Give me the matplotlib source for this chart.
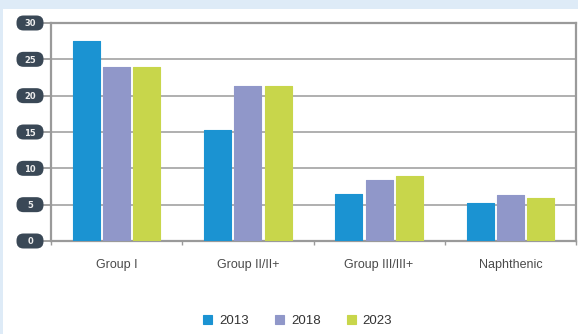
import numpy as np
import matplotlib
matplotlib.use('Agg')
import matplotlib.pyplot as plt
from matplotlib.patches import Rectangle, FancyBboxPatch

# data
categories = ['Group I', 'Group II/II+', 'Group III/III+', 'Naphthenic']
years = ['2013', '2018', '2023']
values_2013 = [27.5, 15.3, 6.5, 5.2]
values_2018 = [23.9, 21.3, 8.4, 6.3]
values_2023 = [23.9, 21.3, 8.9, 5.9]
y_ticks = [0, 5, 10, 15, 20, 25, 30]
colors = ['#1b93d2', '#9097c9', '#c8d64b']

W, H = 578, 334
fig = plt.figure(figsize=(W / 100, H / 100), dpi=100, facecolor='#deebf7')
# white panel on the light blue background
fig.patches.append(Rectangle((3 / W, 0), 1, 1 - 9 / H, transform=fig.transFigure,
                             facecolor='white', edgecolor='none', zorder=-1))

ax = fig.add_axes([51 / W, 1 - 241 / H, 525 / W, 218 / H])
ax.set_facecolor('white')

x = np.arange(len(categories))
width = 0.205
step = 0.23
for i, (vals, year) in enumerate(zip([values_2013, values_2018, values_2023], years)):
    ax.bar(x + (i - 1) * step, vals, width, color=colors[i], label=year,
           edgecolor=colors[i], linewidth=0.8, joinstyle='round', zorder=3)

ax.set_xlim(-0.5, len(categories) - 0.5)
ax.set_ylim(0, 30)
ax.set_yticks(y_ticks)
ax.set_yticklabels([])
ax.yaxis.grid(True, color='#a9a9a9', linewidth=1.3, zorder=1)
ax.set_axisbelow(True)

for s in ax.spines.values():
    s.set_color('#9a9a9a')
    s.set_linewidth(1.6)

# category labels between the boundary ticks
ax.set_xticks(x)
ax.set_xticklabels(categories, fontsize=9, color='#4a4a4a', family='Liberation Sans')
ax.tick_params(axis='x', length=0, pad=13)
ax.set_xticks(np.arange(-0.5, len(categories)), minor=True)
ax.tick_params(axis='x', which='minor', length=3, color='#9a9a9a', width=1)
ax.tick_params(axis='y', length=8, color='#9a9a9a', width=1.3)

# y tick labels as white text in dark rounded boxes of fixed size
box_w, box_h = 27, 15
x_left = ax.get_xlim()[0]
for v in y_ticks:
    px, py = ax.transData.transform((x_left, v))
    cx = (px - 21) / W
    cy = py / H
    fig.patches.append(FancyBboxPatch((cx - box_w / 2 / W, cy - box_h / 2 / H),
                                      box_w / W, box_h / H,
                                      boxstyle='round,pad=0,rounding_size=%f' % (7 / W),
                                      mutation_aspect=W / H, transform=fig.transFigure,
                                      facecolor='#3a4856', edgecolor='none', zorder=5))
    fig.text(cx, cy, str(v), color='#eeeeee', fontsize=6, fontweight='bold',
             ha='center', va='center_baseline', zorder=6)

leg = ax.legend(loc='upper center', bbox_to_anchor=(0.47, -0.285), ncol=3, frameon=False,
                prop={'family': 'Liberation Sans', 'size': 9.5}, handlelength=0.7,
                handleheight=0.7, handletextpad=0.5, columnspacing=2.0)
for t in leg.get_texts():
    t.set_color('#333333')

fig.savefig('out.png', dpi=100, facecolor=fig.get_facecolor())
